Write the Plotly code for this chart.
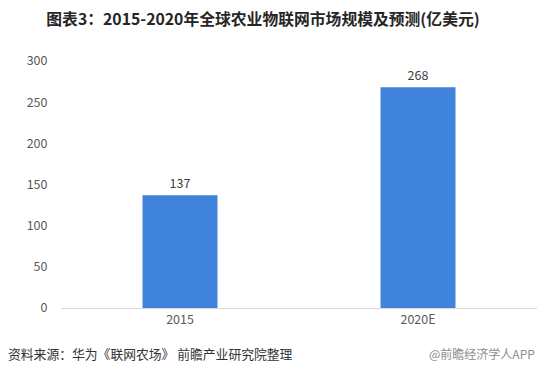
import plotly.graph_objects as go

categories = ["2015", "2020E"]
values = [137, 268]
y_ticks = [0, 50, 100, 150, 200, 250, 300]

title_text = "图表3：2015-2020年全球农业物联网市场规模及预测(亿美元)"
source_text = "资料来源：华为《联网农场》 前瞻产业研究院整理"
credit_text = "@前瞻经济学人APP"

font_family = "Microsoft YaHei, Noto Sans CJK SC, sans-serif"

fig = go.Figure()
fig.add_trace(go.Bar(
    x=categories,
    y=values,
    marker=dict(color="#3F83DC", line=dict(width=0)),
    text=[str(v) for v in values],
    textposition="outside",
    textfont=dict(size=12.5, color="#404040", family=font_family),
    cliponaxis=False,
    width=0.315,
))

fig.update_layout(
    width=537,
    height=374,
    margin=dict(l=61, r=0, t=61, b=66),
    paper_bgcolor="white",
    plot_bgcolor="white",
    showlegend=False,
    font=dict(family=font_family),
    title=dict(
        text="<b>" + title_text + "</b>",
        x=263 / 537, xanchor="center",
        y=1 - 19 / 374, yanchor="middle",
        font=dict(size=15.8, color="#262626", family=font_family),
    ),
    xaxis=dict(
        showgrid=False,
        showline=True,
        linecolor="#d9d9d9",
        linewidth=1,
        ticks="",
        tickfont=dict(size=12.5, color="#595959", family=font_family),
        fixedrange=True,
    ),
    yaxis=dict(
        range=[0, 300],
        tickvals=y_ticks,
        showgrid=False,
        zeroline=False,
        showline=False,
        ticks="outside",
        ticklen=10,
        tickcolor="rgba(0,0,0,0)",
        tickfont=dict(size=12.5, color="#595959", family=font_family),
        fixedrange=True,
    ),
    annotations=[
        dict(text=source_text, xref="paper", yref="paper",
             x=-55 / 476, y=-(353 - 308) / 247, xanchor="left", yanchor="middle",
             showarrow=False, font=dict(size=12.8, color="#333333", family=font_family)),
        dict(text=credit_text, xref="paper", yref="paper",
             x=1, y=-(353 - 308) / 247, xanchor="right", yanchor="middle",
             showarrow=False, font=dict(size=12, color="#8c8c8c", family=font_family)),
    ],
)

fig.write_html("out.html")
